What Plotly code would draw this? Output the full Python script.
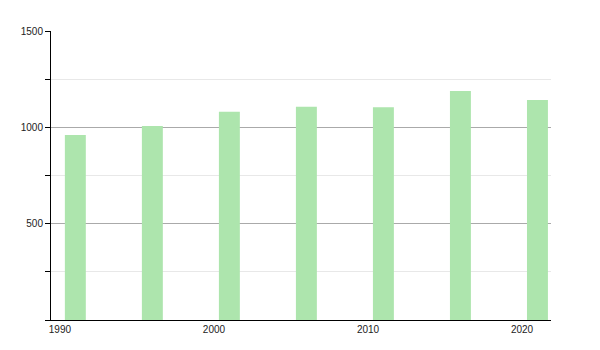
import plotly.graph_objects as go

years = [1991, 1996, 2001, 2006, 2011, 2016, 2021]
values = [960, 1007, 1081, 1107, 1104, 1189, 1142]
y_ticks = [500, 1000, 1500]
x_ticks = [1990, 2000, 2010, 2020]

fig = go.Figure(go.Bar(x=years, y=values, width=1.36,
                       marker=dict(color="#ade5ad", line=dict(width=0))))

fig.update_layout(
    width=600, height=350,
    margin=dict(l=51, r=49, t=31, b=30),
    paper_bgcolor="white", plot_bgcolor="white",
    showlegend=False,
    font=dict(family="Liberation Sans, Arial, sans-serif", size=10, color="#222"),
)
fig.update_xaxes(range=[1989.42, 2021.88], tickvals=x_ticks, ticktext=[str(v) for v in x_ticks],
                 showgrid=False, showline=True, linecolor="black", linewidth=1,
                 ticks="", zeroline=False)
fig.update_yaxes(range=[0, 1500], tickvals=y_ticks, ticktext=[str(v) for v in y_ticks],
                 showgrid=True, gridcolor="#aaaaaa", gridwidth=1,
                 showline=True, linecolor="black", linewidth=1,
                 ticks="outside", ticklen=5, tickcolor="black", zeroline=False,
                 minor=dict(dtick=250, tick0=0, ticks="outside", ticklen=5, tickcolor="black",
                            showgrid=True, gridcolor="#e8e8e8", gridwidth=1))

fig.write_html("out.html")
